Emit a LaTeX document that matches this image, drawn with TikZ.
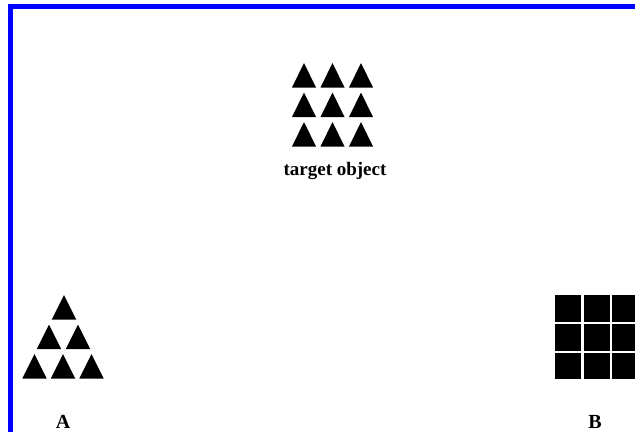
\documentclass[tikz,border=0pt]{standalone}
\usepackage{fontspec}
\setmainfont{Liberation Serif}
\tikzset{
  shapefill/.style={fill=black, draw=none},
  frame/.style={fill={rgb,255:red,0;green,0;blue,255}, draw=none},
  lbl/.style={font=\bfseries\fontsize{20}{23}\selectfont, inner sep=0pt, anchor=base},
}
\begin{document}
\begin{tikzpicture}[x=1pt,y=-1pt]
\useasboundingbox (0,0) rectangle (635,432);
\fill[white] (0,0) rectangle (635,432);
% blue frame
\fill[frame] (8,4) rectangle (635,9);
\fill[frame] (8,4) rectangle (12.5,432);
% target object triangles
\foreach \cx in {304,332.5,361}{
  \foreach \ty in {63,92.5,122}{
    \fill[shapefill] (\cx-12,\ty+24.5) -- (\cx,\ty) -- (\cx+12,\ty+24.5) -- cycle;
  }
}
\node[lbl, font=\bfseries\fontsize{19}{22}\selectfont] (target) at (335,175) {target object};
% A triangles
\foreach \cx/\ty in {64/295, 49/324.5, 78/324.5, 34.5/354, 63/354, 91.5/354}{
  \fill[shapefill] (\cx-12.2,\ty+24.5) -- (\cx,\ty) -- (\cx+12.2,\ty+24.5) -- cycle;
}
\node[lbl] (A) at (63,428) {A};
% B squares
\foreach \lx/\w in {555/26, 583.5/26, 612/23}{
  \foreach \ty in {295,324,352.5}{
    \fill[shapefill] (\lx,\ty) rectangle (\lx+\w,\ty+26.5);
  }
}
\node[lbl] (B) at (595,428.5) {B};
\end{tikzpicture}
\end{document}
